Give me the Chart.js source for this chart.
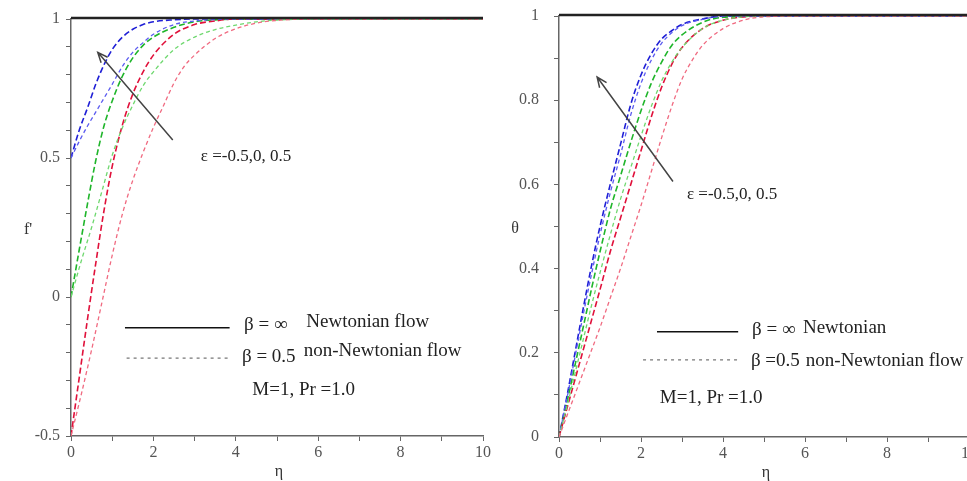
<!DOCTYPE html>
<html>
<head>
<meta charset="utf-8">
<script src="https://cdn.jsdelivr.net/npm/chart.js@4.4.1/dist/chart.umd.min.js"></script>
<style>
  body { margin: 0; background: #fff; width: 967px; height: 481px; overflow: hidden; position: relative; }
  canvas { position: absolute; top: 0; }
  #velocity { left: 0; }
  #temperature { left: 490px; }
</style>
</head>
<body>
<canvas id="velocity" width="500" height="481"></canvas>
<canvas id="temperature" width="490" height="481"></canvas>
<script>
// DATA //

// f' profiles, eps = 0.5 (blue), 0 (green), -0.5 (red); Newtonian and beta = 0.5
const fpBlueNewtX = [0, 0.2, 0.4, 0.6, 0.8, 1.0, 1.25, 1.5, 1.75, 2.0, 2.5, 3, 4, 6, 8, 10];
const fpBlueNewtY = [0.5, 0.6, 0.68, 0.765, 0.835, 0.89, 0.935, 0.963, 0.98, 0.99, 0.997, 1, 1, 1, 1, 1];
const fpBlueNonX = [0, 0.2, 0.4, 0.6, 0.8, 1.0, 1.25, 1.5, 1.75, 2.0, 2.5, 3, 3.5, 4, 6, 8, 10];
const fpBlueNonY = [0.5, 0.56, 0.615, 0.665, 0.715, 0.765, 0.83, 0.88, 0.915, 0.945, 0.98, 0.993, 0.998, 1, 1, 1, 1];
const fpGreenNewtX = [0, 0.2, 0.4, 0.6, 0.8, 1.0, 1.25, 1.5, 1.75, 2.0, 2.5, 3, 3.5, 4, 6, 8, 10];
const fpGreenNewtY = [0, 0.17, 0.335, 0.49, 0.615, 0.705, 0.795, 0.86, 0.905, 0.935, 0.97, 0.99, 0.997, 1, 1, 1, 1];
const fpGreenNonX = [0, 0.25, 0.5, 0.75, 1.0, 1.25, 1.5, 1.75, 2.0, 2.5, 3, 3.5, 4, 4.5, 5, 6, 8, 10];
const fpGreenNonY = [0, 0.13, 0.25, 0.38, 0.51, 0.61, 0.69, 0.76, 0.81, 0.89, 0.935, 0.962, 0.978, 0.99, 0.996, 1, 1, 1];
const fpRedNewtX = [0, 0.2, 0.4, 0.6, 0.8, 1.0, 1.25, 1.5, 1.75, 2.0, 2.5, 3, 3.5, 4, 6, 8, 10];
const fpRedNewtY = [-0.5, -0.29, -0.08, 0.12, 0.31, 0.47, 0.62, 0.73, 0.81, 0.87, 0.945, 0.98, 0.993, 1, 1, 1, 1];
const fpRedNonX = [0, 0.25, 0.5, 0.75, 1.0, 1.25, 1.5, 1.75, 2.0, 2.25, 2.5, 2.75, 3.0, 3.5, 4, 4.5, 5, 6, 8, 10];
const fpRedNonY = [-0.5, -0.35, -0.19, -0.02, 0.15, 0.3, 0.42, 0.52, 0.61, 0.69, 0.77, 0.83, 0.87, 0.93, 0.965, 0.985, 0.995, 1, 1, 1];

// theta profiles, same cases
const thBlueNewtX = [0, 0.2, 0.4, 0.6, 0.8, 1.0, 1.25, 1.5, 1.75, 2.0, 2.25, 2.5, 2.75, 3.0, 3.5, 4, 6, 8, 10];
const thBlueNewtY = [0, 0.1, 0.205, 0.31, 0.41, 0.5, 0.6, 0.695, 0.79, 0.86, 0.91, 0.945, 0.965, 0.98, 0.993, 1, 1, 1, 1];
const thBlueNonX = [0, 0.2, 0.4, 0.6, 0.8, 1.0, 1.25, 1.5, 1.75, 2.0, 2.25, 2.5, 2.75, 3.0, 3.5, 4, 5, 6, 8, 10];
const thBlueNonY = [0, 0.095, 0.195, 0.295, 0.39, 0.48, 0.58, 0.67, 0.765, 0.84, 0.895, 0.935, 0.96, 0.977, 0.992, 0.999, 1, 1, 1, 1];
const thGreenNewtX = [0, 0.2, 0.4, 0.6, 0.8, 1.0, 1.25, 1.5, 1.75, 2.0, 2.25, 2.5, 2.75, 3.0, 3.5, 4, 5, 6, 8, 10];
const thGreenNewtY = [0, 0.085, 0.175, 0.265, 0.355, 0.44, 0.54, 0.62, 0.7, 0.775, 0.84, 0.89, 0.93, 0.955, 0.985, 0.997, 1, 1, 1, 1];
const thGreenNonX = [0, 0.2, 0.4, 0.6, 0.8, 1.0, 1.25, 1.5, 1.75, 2.0, 2.25, 2.5, 2.75, 3.0, 3.5, 4, 5, 6, 8, 10];
const thGreenNonY = [0, 0.075, 0.155, 0.235, 0.315, 0.39, 0.48, 0.565, 0.64, 0.715, 0.785, 0.845, 0.89, 0.925, 0.97, 0.99, 1, 1, 1, 1];
const thRedNewtX = [0, 0.2, 0.4, 0.6, 0.8, 1.0, 1.25, 1.5, 1.75, 2.0, 2.25, 2.5, 2.75, 3.0, 3.5, 4, 4.5, 5, 6, 8, 10];
const thRedNewtY = [0, 0.07, 0.14, 0.21, 0.28, 0.35, 0.44, 0.52, 0.6, 0.68, 0.76, 0.83, 0.885, 0.925, 0.97, 0.99, 0.998, 1, 1, 1, 1];
const thRedNonX = [0, 0.25, 0.5, 0.75, 1.0, 1.25, 1.5, 1.75, 2.0, 2.25, 2.5, 2.75, 3.0, 3.25, 3.5, 4, 4.5, 5, 6, 8, 10];
const thRedNonY = [0, 0.065, 0.13, 0.195, 0.26, 0.33, 0.4, 0.475, 0.55, 0.63, 0.71, 0.785, 0.85, 0.895, 0.93, 0.97, 0.99, 0.998, 1, 1, 1];

// HELPERS //

const SERIF = '"Liberation Serif", "Times New Roman", serif';

function pts(xs, ys) {
  return xs.map((x, i) => ({ x: x, y: ys[i] }));
}

// one dashed curve; Newtonian curves darker with longer dashes
function curve(xs, ys, color, newtonian) {
  return {
    data: pts(xs, ys),
    borderColor: color,
    borderWidth: newtonian ? 1.6 : 1.3,
    borderDash: newtonian ? [6, 3] : [4, 3],
    pointRadius: 0,
    showLine: true,
    cubicInterpolationMode: "monotone",
    fill: false,
  };
}

// text, arrows and legend drawn in data coordinates
const notes = {
  id: "notes",
  afterDraw(chart, args, opts) {
    const { ctx, chartArea } = chart;
    const sx = chart.scales.x;
    const sy = chart.scales.y;
    const px = (v) => sx.getPixelForValue(v);
    const py = (v) => sy.getPixelForValue(v);
    ctx.save();

    // frame line along the top
    ctx.strokeStyle = "#222";
    ctx.lineWidth = 2.5;
    ctx.beginPath();
    ctx.moveTo(chartArea.left, chartArea.top - 1);
    ctx.lineTo(chartArea.right, chartArea.top - 1);
    ctx.stroke();

    // arrow across the curves
    const a = opts.arrow;
    const x0 = px(a[0]), y0 = py(a[1]), x1 = px(a[2]), y1 = py(a[3]);
    const ang = Math.atan2(y1 - y0, x1 - x0);
    ctx.strokeStyle = "#444";
    ctx.lineWidth = 1.5;
    ctx.beginPath();
    ctx.moveTo(x0, y0);
    ctx.lineTo(x1, y1);
    ctx.moveTo(x1 - 11 * Math.cos(ang - 0.4), y1 - 11 * Math.sin(ang - 0.4));
    ctx.lineTo(x1, y1);
    ctx.lineTo(x1 - 11 * Math.cos(ang + 0.4), y1 - 11 * Math.sin(ang + 0.4));
    ctx.stroke();

    // legend sample lines
    ctx.strokeStyle = "#111";
    ctx.lineWidth = 1.5;
    ctx.beginPath();
    ctx.moveTo(px(opts.solid[0]), py(opts.solid[2]));
    ctx.lineTo(px(opts.solid[1]), py(opts.solid[2]));
    ctx.stroke();
    ctx.strokeStyle = "#777";
    ctx.lineWidth = 1.3;
    ctx.setLineDash([3, 4]);
    ctx.beginPath();
    ctx.moveTo(px(opts.dashed[0]), py(opts.dashed[2]));
    ctx.lineTo(px(opts.dashed[1]), py(opts.dashed[2]));
    ctx.stroke();
    ctx.setLineDash([]);

    // parameter label next to the arrow
    ctx.fillStyle = "#222";
    ctx.textBaseline = "middle";
    ctx.textAlign = "left";
    ctx.font = "17px " + SERIF;
    ctx.fillText(opts.eps[0], px(opts.eps[1]), py(opts.eps[2]));

    // legend texts
    ctx.font = "19px " + SERIF;
    opts.texts.forEach((t) => ctx.fillText(t[0], px(t[1]), py(t[2])));

    // axis titles
    ctx.fillStyle = "#333";
    ctx.font = "16px " + SERIF;
    ctx.textAlign = "center";
    ctx.fillText(opts.yTitle, opts.yTitleX, (chartArea.top + chartArea.bottom) / 2 + 2);
    ctx.fillText("η", (chartArea.left + chartArea.right) / 2 + 2, chartArea.bottom + 36);
    ctx.restore();
  },
};

function makeChart(id, datasets, yMin, yMajor, plot, noteOpts) {
  return new Chart(document.getElementById(id), {
    type: "scatter",
    data: { datasets: datasets },
    options: {
      responsive: false,
      animation: false,
      layout: { padding: { top: plot.top, right: plot.right, left: 0, bottom: 0 } },
      plugins: { legend: { display: false }, tooltip: { enabled: false }, notes: noteOpts },
      scales: {
        x: {
          type: "linear",
          min: 0,
          max: 10,
          afterFit: (s) => {
            s.height = plot.xh;
            s.paddingLeft = 0;
            s.paddingRight = 0;
          },
          border: { color: "#666", width: 1.5 },
          grid: { drawOnChartArea: false, tickLength: 5, color: "#666" },
          ticks: {
            stepSize: 1,
            color: "#555",
            font: { family: SERIF, size: 16 },
            padding: 2,
            maxRotation: 0,
            callback: (v) => (v % 2 === 0 ? String(v) : ""),
          },
        },
        y: {
          type: "linear",
          min: yMin,
          max: 1,
          afterFit: (s) => {
            s.width = plot.yw;
            s.paddingTop = 0;
            s.paddingBottom = 0;
          },
          border: { color: "#666", width: 1.5 },
          grid: { drawOnChartArea: false, tickLength: 5, color: "#666" },
          ticks: {
            stepSize: 0.1,
            color: "#555",
            font: { family: SERIF, size: 16 },
            padding: plot.tickPad,
            callback: (v) => {
              const k = v / yMajor;
              return Math.abs(k - Math.round(k)) < 1e-6 ? String(Math.round(k * yMajor * 10) / 10) : "";
            },
          },
        },
      },
    },
    plugins: [notes],
  });
}

// PANELS //

const BLUE = "#1f1fd6", BLUE_L = "#5b5bf0";
const GREEN = "#1fb52a", GREEN_L = "#6fd86f";
const RED = "#e0103a", RED_L = "#f06a80";

makeChart(
  "velocity",
  [
    curve(fpRedNonX, fpRedNonY, RED_L, false),
    curve(fpGreenNonX, fpGreenNonY, GREEN_L, false),
    curve(fpBlueNonX, fpBlueNonY, BLUE_L, false),
    curve(fpRedNewtX, fpRedNewtY, RED, true),
    curve(fpGreenNewtX, fpGreenNewtY, GREEN, true),
    curve(fpBlueNewtX, fpBlueNewtY, BLUE, true),
  ],
  -0.5,
  0.5,
  { top: 19, right: 17, xh: 45, yw: 71, tickPad: 6 },
  {
    arrow: [2.47, 0.565, 0.65, 0.88],
    solid: [1.31, 3.85, -0.111],
    dashed: [1.35, 3.85, -0.22],
    eps: ["ε =-0.5,0, 0.5", 3.15, 0.504],
    texts: [
      ["β = ∞", 4.2, -0.10],
      ["Newtonian flow", 5.71, -0.09],
      ["β = 0.5", 4.15, -0.215],
      ["non-Newtonian flow", 5.65, -0.195],
      ["M=1, Pr =1.0", 4.4, -0.335],
    ],
    yTitle: "f'",
    yTitleX: 28,
  }
);

makeChart(
  "temperature",
  [
    curve(thRedNonX, thRedNonY, RED_L, false),
    curve(thGreenNonX, thGreenNonY, GREEN_L, false),
    curve(thBlueNonX, thBlueNonY, BLUE_L, false),
    curve(thRedNewtX, thRedNewtY, RED, true),
    curve(thGreenNewtX, thGreenNewtY, GREEN, true),
    curve(thBlueNewtX, thBlueNewtY, BLUE, true),
  ],
  0,
  0.2,
  { top: 16, right: 11, xh: 44, yw: 69, tickPad: 15 },
  {
    arrow: [2.78, 0.607, 0.93, 0.855],
    solid: [2.39, 4.37, 0.25],
    dashed: [2.05, 4.41, 0.183],
    eps: ["ε =-0.5,0, 0.5", 3.12, 0.576],
    texts: [
      ["β = ∞", 4.71, 0.255],
      ["Newtonian", 5.95, 0.26],
      ["β =0.5", 4.68, 0.18],
      ["non-Newtonian flow", 6.02, 0.18],
      ["M=1, Pr =1.0", 2.46, 0.093],
    ],
    yTitle: "θ",
    yTitleX: 25,
  }
);
</script>
</body>
</html>
